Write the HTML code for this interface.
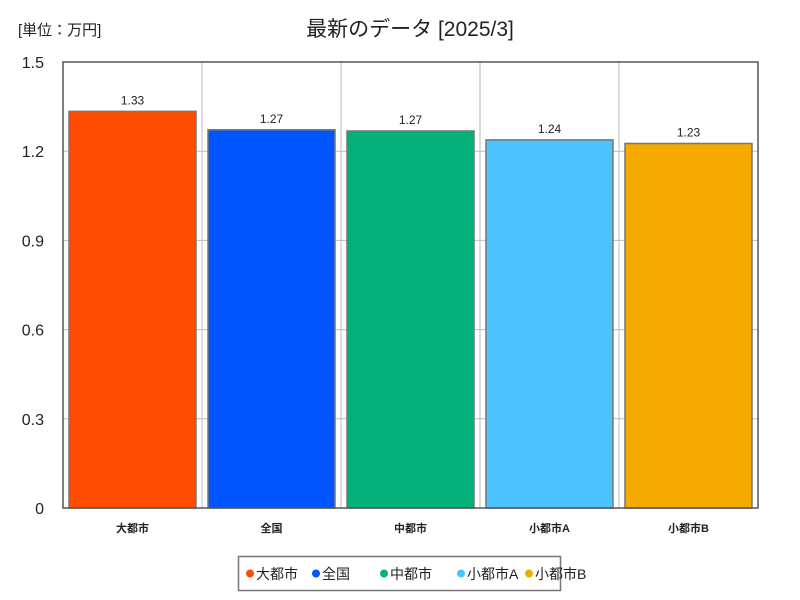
<!DOCTYPE html>
<html><head><meta charset="utf-8"><style>
body{margin:0;background:#fff;}
svg{display:block;font-family:"Liberation Sans","Noto Sans CJK JP",sans-serif;}
</style></head><body>
<svg id="chart" width="800" height="600">
<text x="18" y="35" font-size="15" fill="#222">[単位：万円]</text>
<text x="410" y="36" font-size="21" text-anchor="middle" fill="#222">最新のデータ [2025/3]</text>
<g id="grid"></g><g id="bars"></g><g id="axes"></g>
<g id="legend">
<rect x="238.5" y="556.5" width="322" height="34" fill="#fff" stroke="#777" stroke-width="1.5"/>
</g>
</svg>
<script>
const categories=["大都市","全国","中都市","小都市A","小都市B"];
const values=[1.334,1.272,1.268,1.238,1.226];
const colors=["#ff4c00","#0055ff","#03b07a","#4cc3ff","#f5aa00"];
const yTicks=[0,0.3,0.6,0.9,1.2,1.5];
const yTickLabels=["0","0.3","0.6","0.9","1.2","1.5"];
const NS="http://www.w3.org/2000/svg";
const L=63,R=758,T=62,B=508,yMax=1.5;
const y=v=>B-(v/yMax)*(B-T);
const band=(R-L)/categories.length;
const x=i=>L+i*band;
function mk(tag,attrs,parent,text){const e=document.createElementNS(NS,tag);for(const k in attrs)e.setAttribute(k,attrs[k]);if(text!==undefined)e.textContent=text;parent.appendChild(e);return e;}
const grid=document.getElementById('grid'),bars=document.getElementById('bars'),axes=document.getElementById('axes'),legend=document.getElementById('legend');
yTicks.forEach((t,i)=>{
 const l=mk('line',{x1:L,x2:R,y1:y(t),y2:y(t),stroke:'#bbb','stroke-width':1},grid);
 
 
 const tx=mk('text',{x:44,y:y(t)+6,'font-size':16,'text-anchor':'end',fill:'#222'},axes,yTickLabels[i]);
 
 
});
for(let i=1;i<categories.length;i++){
 const l=mk('line',{x1:x(i),x2:x(i),y1:T,y2:B,stroke:'#bbb','stroke-width':1},grid);
 
 
}
categories.forEach((c,i)=>{
 const r=mk('rect',{x:x(i)+6,y:y(values[i]),width:band-12,height:B-y(values[i]),fill:colors[i],stroke:'#777','stroke-width':1.5},bars);
 
 
 const v=mk('text',{x:x(i)+band/2,y:y(values[i])-7,'font-size':12,'text-anchor':'middle',fill:'#222'},bars,values[i].toFixed(2));
 
 
 const cl=mk('text',{x:x(i)+band/2,y:532,'font-size':11,'font-weight':'bold','text-anchor':'middle',fill:'#222'},axes,c);
 
 
});
const fr=mk('rect',{x:L,y:T,width:R-L,height:B-T,fill:'none',stroke:'#555','stroke-width':1.5},axes);


const lx=[250,316,384,461,529];
categories.forEach((c,i)=>{
 const d=mk('circle',{cx:lx[i],cy:573.5,r:4,fill:colors[i]},legend);
 
 
 const t=mk('text',{x:lx[i]+6,y:579,'font-size':14,fill:'#222'},legend,c);
 
 
});
</script>
</body></html>
